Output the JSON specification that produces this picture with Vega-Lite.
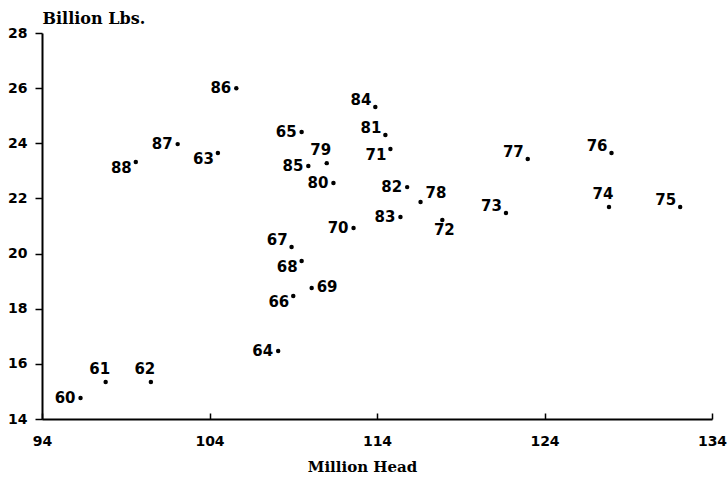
{
  "$schema": "https://vega.github.io/schema/vega-lite/v6.json",
  "autosize": "none",
  "width": 670,
  "height": 386,
  "padding": {"left": 42, "top": 33, "right": 16, "bottom": 60},
  "background": "white",
  "config": {
    "view": {"stroke": null},
    "axis": {
      "grid": false,
      "domainColor": "black",
      "domainWidth": 2,
      "tickColor": "black",
      "tickWidth": 1.5,
      "labelColor": "black",
      "labelFont": "DejaVu Sans",
      "labelFontWeight": "bold",
      "labelFontSize": 14,
      "labelFlush": false,
      "titleColor": "black",
      "titleFont": "DejaVu Serif",
      "titleFontWeight": "bold",
      "titleFontSize": 15
    }
  },
  "data": {
    "values": [
      {"yr": "60", "head": 96.3, "lbs": 14.76, "pos": "L"},
      {"yr": "61", "head": 97.8, "lbs": 15.34, "pos": "A"},
      {"yr": "62", "head": 100.5, "lbs": 15.34, "pos": "A"},
      {"yr": "63", "head": 104.5, "lbs": 23.65, "pos": "LS"},
      {"yr": "64", "head": 108.1, "lbs": 16.47, "pos": "L"},
      {"yr": "65", "head": 109.5, "lbs": 24.41, "pos": "L"},
      {"yr": "66", "head": 109.0, "lbs": 18.46, "pos": "LS"},
      {"yr": "67", "head": 108.9, "lbs": 20.24, "pos": "LH"},
      {"yr": "68", "head": 109.5, "lbs": 19.73, "pos": "LS"},
      {"yr": "69", "head": 110.1, "lbs": 18.75, "pos": "R"},
      {"yr": "70", "head": 112.6, "lbs": 20.93, "pos": "L"},
      {"yr": "71", "head": 114.8, "lbs": 23.79, "pos": "LS"},
      {"yr": "72", "head": 117.9, "lbs": 21.22, "pos": "B"},
      {"yr": "73", "head": 121.7, "lbs": 21.47, "pos": "LH"},
      {"yr": "74", "head": 127.85, "lbs": 21.69, "pos": "A"},
      {"yr": "75", "head": 132.1, "lbs": 21.69, "pos": "LH"},
      {"yr": "76", "head": 128.0, "lbs": 23.65, "pos": "LH"},
      {"yr": "77", "head": 123.0, "lbs": 23.43, "pos": "LH"},
      {"yr": "78", "head": 116.6, "lbs": 21.87, "pos": "RH"},
      {"yr": "79", "head": 111.0, "lbs": 23.28, "pos": "A"},
      {"yr": "80", "head": 111.4, "lbs": 22.56, "pos": "L"},
      {"yr": "81", "head": 114.5, "lbs": 24.3, "pos": "LH"},
      {"yr": "82", "head": 115.8, "lbs": 22.41, "pos": "L"},
      {"yr": "83", "head": 115.4, "lbs": 21.33, "pos": "L"},
      {"yr": "84", "head": 113.9, "lbs": 25.32, "pos": "LH"},
      {"yr": "85", "head": 109.9, "lbs": 23.18, "pos": "L"},
      {"yr": "86", "head": 105.6, "lbs": 26.0, "pos": "L"},
      {"yr": "87", "head": 102.1, "lbs": 23.97, "pos": "L"},
      {"yr": "88", "head": 99.6, "lbs": 23.32, "pos": "LS"}
    ]
  },
  "encoding": {
    "x": {
      "field": "head",
      "type": "quantitative",
      "scale": {"domain": [94, 134], "nice": false, "zero": false},
      "axis": {
        "values": [94, 104, 114, 124, 134],
        "tickSize": -6,
        "labelPadding": 21,
        "title": "Million Head",
        "titleX": 320,
        "titleY": 47,
        "titleBaseline": "middle",
        "titleAlign": "center"
      }
    },
    "y": {
      "field": "lbs",
      "type": "quantitative",
      "scale": {"domain": [14, 28], "nice": false, "zero": false},
      "axis": {
        "values": [14, 16, 18, 20, 22, 24, 26, 28],
        "tickSize": 7,
        "labelPadding": 8,
        "title": "Billion Lbs.",
        "titleFontSize": 16,
        "titleAngle": 0,
        "titleAlign": "left",
        "titleBaseline": "middle",
        "titleX": 0,
        "titleY": -15
      }
    }
  },
  "layer": [
    {"mark": {"type": "circle", "size": 20, "color": "black", "opacity": 1}},
    {
      "transform": [{"filter": "datum.pos === 'L'"}],
      "mark": {"type": "text", "align": "right", "baseline": "alphabetic", "dx": -5, "dy": 5, "font": "DejaVu Sans", "fontWeight": "bold", "fontSize": 15, "color": "black"},
      "encoding": {"text": {"field": "yr"}}
    },
    {
      "transform": [{"filter": "datum.pos === 'LH'"}],
      "mark": {"type": "text", "align": "right", "baseline": "alphabetic", "dx": -4, "dy": -2, "font": "DejaVu Sans", "fontWeight": "bold", "fontSize": 15, "color": "black"},
      "encoding": {"text": {"field": "yr"}}
    },
    {
      "transform": [{"filter": "datum.pos === 'LS'"}],
      "mark": {"type": "text", "align": "right", "baseline": "alphabetic", "dx": -4, "dy": 11, "font": "DejaVu Sans", "fontWeight": "bold", "fontSize": 15, "color": "black"},
      "encoding": {"text": {"field": "yr"}}
    },
    {
      "transform": [{"filter": "datum.pos === 'A'"}],
      "mark": {"type": "text", "align": "center", "baseline": "alphabetic", "dx": -6, "dy": -8, "font": "DejaVu Sans", "fontWeight": "bold", "fontSize": 15, "color": "black"},
      "encoding": {"text": {"field": "yr"}}
    },
    {
      "transform": [{"filter": "datum.pos === 'R'"}],
      "mark": {"type": "text", "align": "left", "baseline": "alphabetic", "dx": 5, "dy": 4, "font": "DejaVu Sans", "fontWeight": "bold", "fontSize": 15, "color": "black"},
      "encoding": {"text": {"field": "yr"}}
    },
    {
      "transform": [{"filter": "datum.pos === 'RH'"}],
      "mark": {"type": "text", "align": "left", "baseline": "alphabetic", "dx": 5, "dy": -4, "font": "DejaVu Sans", "fontWeight": "bold", "fontSize": 15, "color": "black"},
      "encoding": {"text": {"field": "yr"}}
    },
    {
      "transform": [{"filter": "datum.pos === 'B'"}],
      "mark": {"type": "text", "align": "center", "baseline": "alphabetic", "dx": 2, "dy": 15, "font": "DejaVu Sans", "fontWeight": "bold", "fontSize": 15, "color": "black"},
      "encoding": {"text": {"field": "yr"}}
    }
  ]
}
